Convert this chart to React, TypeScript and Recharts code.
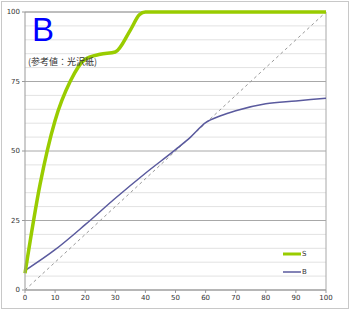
import { LineChart, Line, XAxis, YAxis, CartesianGrid, ReferenceLine } from 'recharts'

const xs = [0, 5, 10, 15, 20, 25, 30, 35, 38, 40, 45, 50, 60, 70, 80, 90, 100]
const sValues = [6, 38, 61, 75, 83, 84.8, 85.6, 93.5, 99, 100, 100, 100, 100, 100, 100, 100, 100]
const bXs = [0, 10, 20, 30, 40, 50, 55, 60, 65, 70, 80, 90, 100]
const bValues = [7, 14.5, 23.5, 33, 42, 50.5, 55, 60.2, 62.7, 64.5, 67, 68, 69]
const xTicks = [0, 10, 20, 30, 40, 50, 60, 70, 80, 90, 100]
const yTicks = [0, 25, 50, 75, 100]
const minorY = [5, 10, 15, 20, 30, 35, 40, 45, 55, 60, 65, 70, 80, 85, 90, 95]
const diagonal = [{ x: 0, y: 0 }, { x: 100, y: 100 }]
const legendItems = [
  { name: 'S', color: '#99cc00', width: 3 },
  { name: 'B', color: '#5a5a9e', width: 1.5 },
]

const sData = xs.map((x, i) => ({ x, y: sValues[i] }))
const bData = bXs.map((x, i) => ({ x, y: bValues[i] }))

const tickStyle = { fontSize: 7, fill: '#333', fontFamily: 'DejaVu Sans' }

export default function App() {
  return (
    <div style={{ position: 'absolute', left: 0, top: 0, width: 350, height: 311, background: '#fff' }}>
      <div style={{ position: 'absolute', left: 1, top: 1, width: 346, height: 306, border: '1px solid #c8c8c8' }} />
      <LineChart width={350} height={311} margin={{ top: 12, right: 24, bottom: 0, left: 0 }}>
        {minorY.map(v => (
          <ReferenceLine key={v} y={v} stroke="#e2e2e2" strokeWidth={1} />
        ))}
        <CartesianGrid vertical={false} stroke="#a8a8a8" />
        <ReferenceLine x={100} stroke="#a8a8a8" />
        <ReferenceLine y={100} stroke="#a8a8a8" />
        <XAxis type="number" dataKey="x" domain={[0, 100]} ticks={xTicks} height={21}
          tick={tickStyle} tickSize={3} stroke="#999" tickLine={{ stroke: '#999' }} allowDuplicatedCategory={false} />
        <YAxis type="number" domain={[0, 100]} ticks={yTicks} width={25}
          tick={tickStyle} tickSize={3} stroke="#999" tickLine={{ stroke: '#999' }} />
        <Line data={diagonal} dataKey="y" name="diag" stroke="#999" strokeDasharray="3 3" strokeWidth={1}
          dot={false} isAnimationActive={false} />
        <Line data={bData} dataKey="y" name="B" type="monotone" stroke="#5a5a9e" strokeWidth={1.5}
          dot={false} isAnimationActive={false} />
        <Line data={sData} dataKey="y" name="S" type="monotone" stroke="#99cc00" strokeWidth={3.5}
          dot={false} isAnimationActive={false} />
      </LineChart>
      <div style={{ position: 'absolute', left: 283, top: 245 }}>
        {legendItems.map(it => (
          <div key={it.name} style={{ display: 'flex', alignItems: 'center', height: 18 }}>
            <svg width={18} height={4}>
              <line x1={0} y1={2} x2={18} y2={2} stroke={it.color} strokeWidth={it.width} />
            </svg>
            <span style={{ fontSize: 7, fontFamily: 'DejaVu Sans', color: '#333', marginLeft: 1 }}>{it.name}</span>
          </div>
        ))}
      </div>
      <div style={{ position: 'absolute', left: 32, top: 13, fontSize: 33, color: '#0000ff', fontFamily: 'Liberation Sans', lineHeight: 1 }}>B</div>
      <div style={{ position: 'absolute', left: 28, top: 57, fontSize: 9, color: '#333', fontFamily: 'Noto Sans CJK JP', lineHeight: 1 }}>(参考値：光沢紙)</div>
    </div>
  )
}
